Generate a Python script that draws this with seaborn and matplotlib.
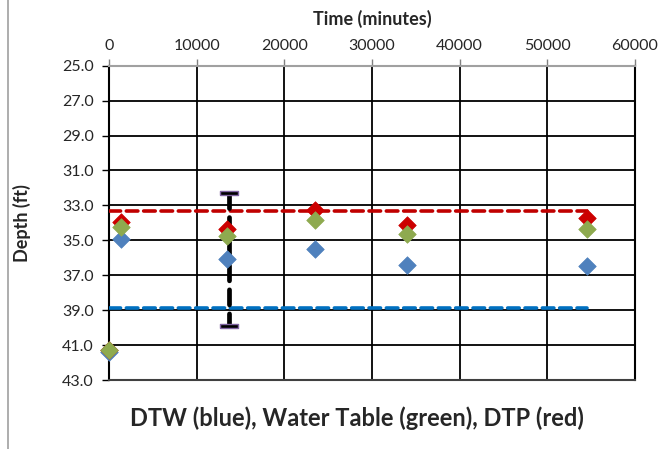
import matplotlib
matplotlib.use("Agg")
import matplotlib.pyplot as plt
import seaborn as sns
import pandas as pd
from matplotlib.lines import Line2D

# ---- data ----
time_min = [0, 1400, 13450, 23500, 34000, 54500]
dtw_blue = [41.4, 34.94, 36.09, 35.51, 36.39, 36.47]
water_table_green = [41.3, 34.24, 34.77, 33.86, 34.62, 34.33]
dtp_red = [41.3, 33.95, 34.33, 33.29, 34.10, 33.72]

dtp_ref_x = [0, 54500]
dtp_ref_y = [33.32, 33.32]
dtw_ref_x = [0, 54500]
dtw_ref_y = [38.9, 38.9]

range_x = [13650, 13650]
range_y = [32.31, 39.89]

x_ticks = [0, 10000, 20000, 30000, 40000, 50000, 60000]
y_ticks = [25.0, 27.0, 29.0, 31.0, 33.0, 35.0, 37.0, 39.0, 41.0, 43.0]

sns.set_style("white")
plt.rcParams['font.family'] = ['Lato', 'DejaVu Sans']

fig = plt.figure(figsize=(6.71, 4.49), dpi=100)
ax = fig.add_axes([109/671, 1-380/449, (635-109)/671, (380-65.7)/449])

df = pd.DataFrame({"t": time_min, "blue": dtw_blue, "green": water_table_green, "red": dtp_red})
ref_red = pd.DataFrame({"x": dtp_ref_x, "y": dtp_ref_y})
ref_blue = pd.DataFrame({"x": dtw_ref_x, "y": dtw_ref_y})
rng = pd.DataFrame({"x": range_x, "y": range_y})

# reference lines
sns.lineplot(data=ref_blue, x="x", y="y", ax=ax, color="#0070C0", lw=2.6,
             dashes=False, zorder=3)
ax.lines[-1].set_dashes([3.2, 1.6])
ax.lines[-1].set_dash_capstyle("round")
sns.lineplot(data=ref_red, x="x", y="y", ax=ax, color="#C00000", lw=2.6,
             dashes=False, zorder=3)
ax.lines[-1].set_dashes([3.2, 1.6])
ax.lines[-1].set_dash_capstyle("round")

# range bar
sns.lineplot(data=rng, x="x", y="y", ax=ax, color="black", lw=3.4,
             dashes=False, zorder=4, orient="y", sort=False)
ax.lines[-1].set_dashes([3.2, 1.9])
ax.lines[-1].set_dash_capstyle("round")
cap = [(-1, -0.28), (1, -0.28), (1, 0.28), (-1, 0.28), (-1, -0.28)]
sns.scatterplot(data=rng, x="x", y="y", ax=ax, marker=cap, s=150, color="black",
                edgecolor="#8064A2", linewidth=1.0, zorder=5)

# points
ms = 80
sns.scatterplot(data=df, x="t", y="blue", ax=ax, marker="D", s=ms, color="#4F81BD",
                edgecolor="#4F81BD", linewidth=0.5, zorder=6)
sns.scatterplot(data=df, x="t", y="red", ax=ax, marker="D", s=ms, color="#CC0000",
                edgecolor="#CC0000", linewidth=0.5, zorder=7)
sns.scatterplot(data=df, x="t", y="green", ax=ax, marker="D", s=ms, color="#8EAA4F",
                edgecolor="#8EAA4F", linewidth=0.5, zorder=8)
for c in ax.collections:
    c.set_clip_on(False)

ax.set_xlim(0, 60000)
ax.set_ylim(43.0, 25.0)
ax.set_xticks(x_ticks)
ax.set_xticklabels([str(v) for v in x_ticks])
ax.set_yticks(y_ticks)
ax.set_yticklabels([f"{v:.1f}" for v in y_ticks])
ax.xaxis.tick_top()
ax.xaxis.set_label_position("top")
ax.tick_params(axis="x", top=True, bottom=False, direction="out", length=5,
               width=1, color="#808080", labelsize=11.5, pad=4)
ax.tick_params(axis="y", left=True, direction="out", length=5, width=1,
               color="black", labelsize=11.5, pad=6)
ax.grid(True, color="black", lw=1.3, zorder=1)
ax.set_axisbelow(True)

for name, sp in ax.spines.items():
    sp.set_visible(True)
    sp.set_color("black")
    sp.set_linewidth(1.5)
ax.spines["top"].set_color("#A0A0A0")
ax.spines["bottom"].set_color("#404040")

ax.set_xlabel("Time (minutes)", fontsize=13, fontweight="bold", labelpad=10)
ax.set_ylabel("Depth (ft)", fontsize=13, fontweight="bold", labelpad=22)

fig.text(357/671, 1-418/449, "DTW (blue), Water Table (green), DTP (red)",
         ha="center", va="center", fontsize=17, fontweight="bold")

fig.add_artist(Line2D([7.5/671, 7.5/671], [0, 1], transform=fig.transFigure,
                      color="#A0A0A0", lw=1.2))

fig.savefig("out.png", dpi=100)
